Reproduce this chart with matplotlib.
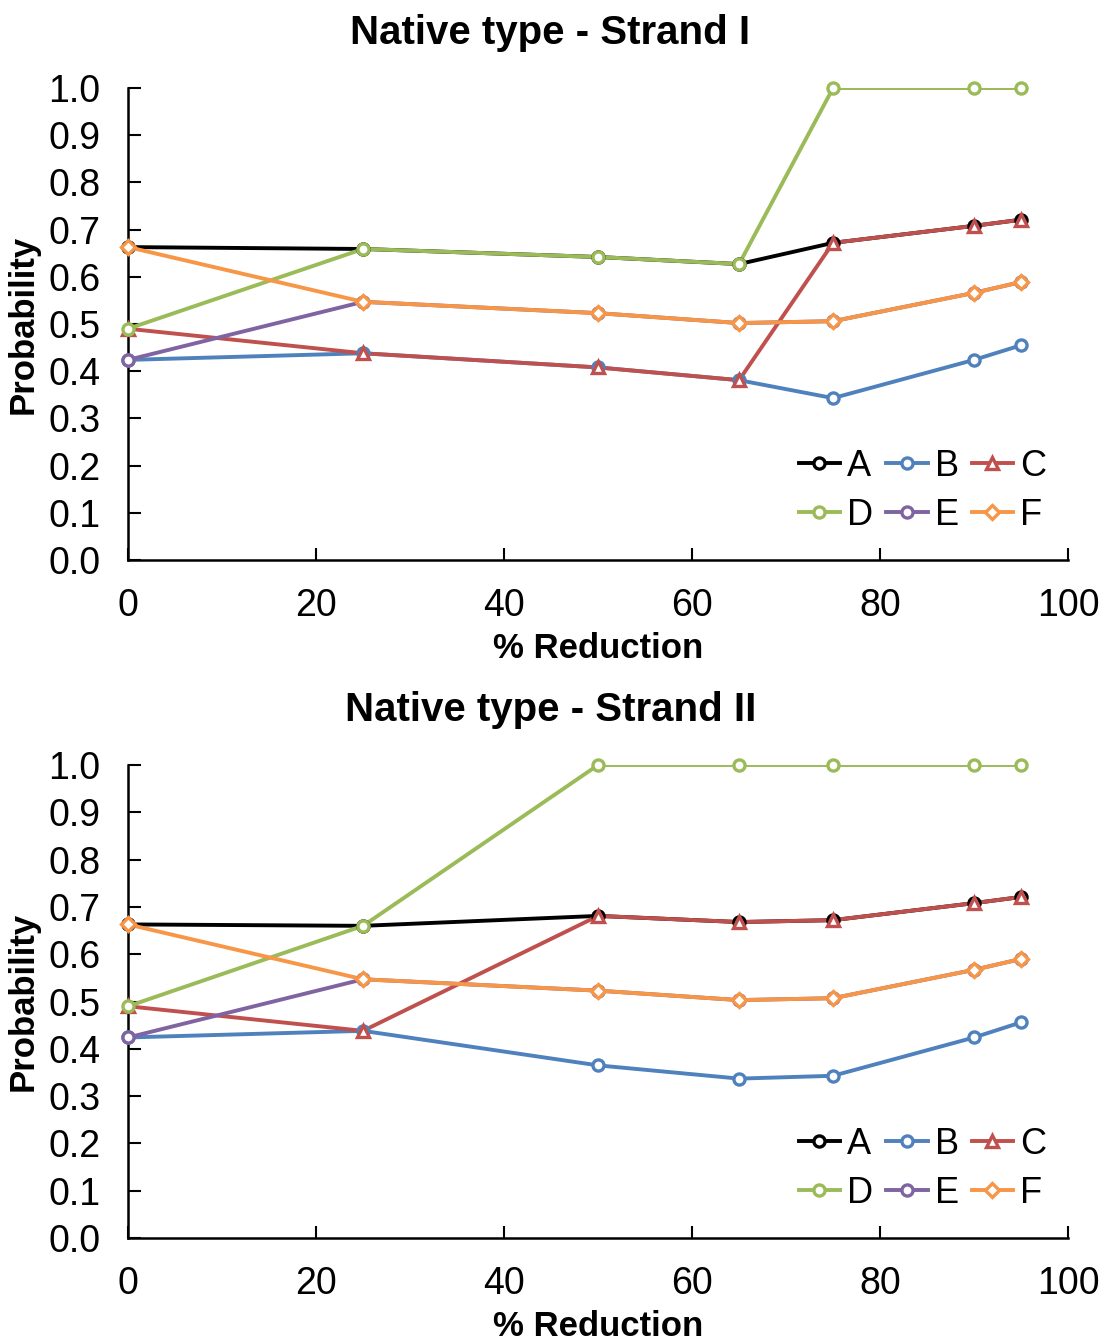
import matplotlib
matplotlib.use("Agg")
import matplotlib.pyplot as plt
from matplotlib.lines import Line2D

plt.rcParams["font.family"] = ["Liberation Sans", "DejaVu Sans"]

reduction = [0, 25, 50, 65, 75, 90, 95]
series = ["A", "B", "C", "D", "E", "F"]

strand1_A = [0.663, 0.659, 0.642, 0.627, 0.672, 0.708, 0.721]
strand1_B = [0.424, 0.438, 0.408, 0.381, 0.343, 0.424, 0.455]
strand1_C = [0.490, 0.438, 0.408, 0.381, 0.672, 0.708, 0.721]
strand1_D = [0.490, 0.659, 0.642, 0.627, 1.000, 1.000, 1.000]
strand1_E = [0.424, 0.547, 0.523, 0.502, 0.506, 0.566, 0.589]
strand1_F = [0.663, 0.547, 0.523, 0.502, 0.506, 0.566, 0.589]

strand2_A = [0.663, 0.660, 0.681, 0.668, 0.672, 0.708, 0.721]
strand2_B = [0.424, 0.438, 0.365, 0.337, 0.343, 0.424, 0.456]
strand2_C = [0.490, 0.438, 0.681, 0.668, 0.672, 0.708, 0.721]
strand2_D = [0.490, 0.660, 1.000, 1.000, 1.000, 1.000, 1.000]
strand2_E = [0.424, 0.547, 0.523, 0.503, 0.507, 0.567, 0.590]
strand2_F = [0.663, 0.547, 0.523, 0.503, 0.507, 0.567, 0.590]

colors = ["#000000", "#4F81BD", "#C0504D", "#9BBB59", "#8064A2", "#F79646"]
markers = ["o", "o", "^", "o", "o", "D"]
msizes = [8, 8, 8.5, 8, 8, 7.5]

panels = [
    ("Native type - Strand I", [strand1_A, strand1_B, strand1_C, strand1_D, strand1_E, strand1_F]),
    ("Native type - Strand II", [strand2_A, strand2_B, strand2_C, strand2_D, strand2_E, strand2_F]),
]

fig = plt.figure(figsize=(11.01, 13.40), dpi=100)
ax_rects = [[0.1163, 0.5821, 0.8538, 0.3522], [0.1163, 0.0761, 0.8538, 0.3530]]
title_y = [0.975, 0.470]

for (title, data), rect, ty in zip(panels, ax_rects, title_y):
    ax = fig.add_axes(rect)
    for vals, c, m, ms in zip(data, colors, markers, msizes):
        ax.plot(reduction, vals, color=c, lw=2.8, zorder=2)
        ax.plot(reduction, vals, ls="none", marker=m, ms=ms, mfc="white",
                mec=c, mew=2.4, clip_on=False, zorder=3)
    ax.set_xlim(0, 100)
    ax.set_ylim(0, 1.0)
    ax.set_xticks(range(0, 101, 20))
    ax.set_yticks([i / 10 for i in range(11)])
    ax.set_yticklabels([f"{i / 10:.1f}" for i in range(11)])
    ax.tick_params(direction="in", length=9, width=1.5, labelsize=27)
    ax.tick_params(axis="y", pad=20)
    ax.tick_params(axis="x", pad=20)
    for side in ("top", "right"):
        ax.spines[side].set_visible(False)
    for side in ("left", "bottom"):
        ax.spines[side].set_linewidth(1.8)
    ax.set_xlabel("% Reduction", fontsize=25, fontweight="bold", labelpad=6)
    ax.set_ylabel("Probability", fontsize=25, fontweight="bold", labelpad=6)
    fig.text(0.5, ty, title, ha="center", va="center", fontsize=29, fontweight="bold")

    handles = [Line2D([], [], color=c, lw=2.8, marker=m, ms=ms, mfc="white", mec=c, mew=2.4)
               for c, m, ms in zip(colors, markers, msizes)]
    # row-major order: A B C on top, D E F below
    order = [0, 3, 1, 4, 2, 5]
    ax.legend([handles[i] for i in order], [series[i] for i in order], ncol=3,
              loc="lower right", bbox_to_anchor=(1.0, 0.012), frameon=False,
              fontsize=26, handlelength=1.15, handletextpad=0.2,
              columnspacing=0.35, labelspacing=0.38, borderaxespad=0.2)

fig.savefig("out.png", dpi=100)
